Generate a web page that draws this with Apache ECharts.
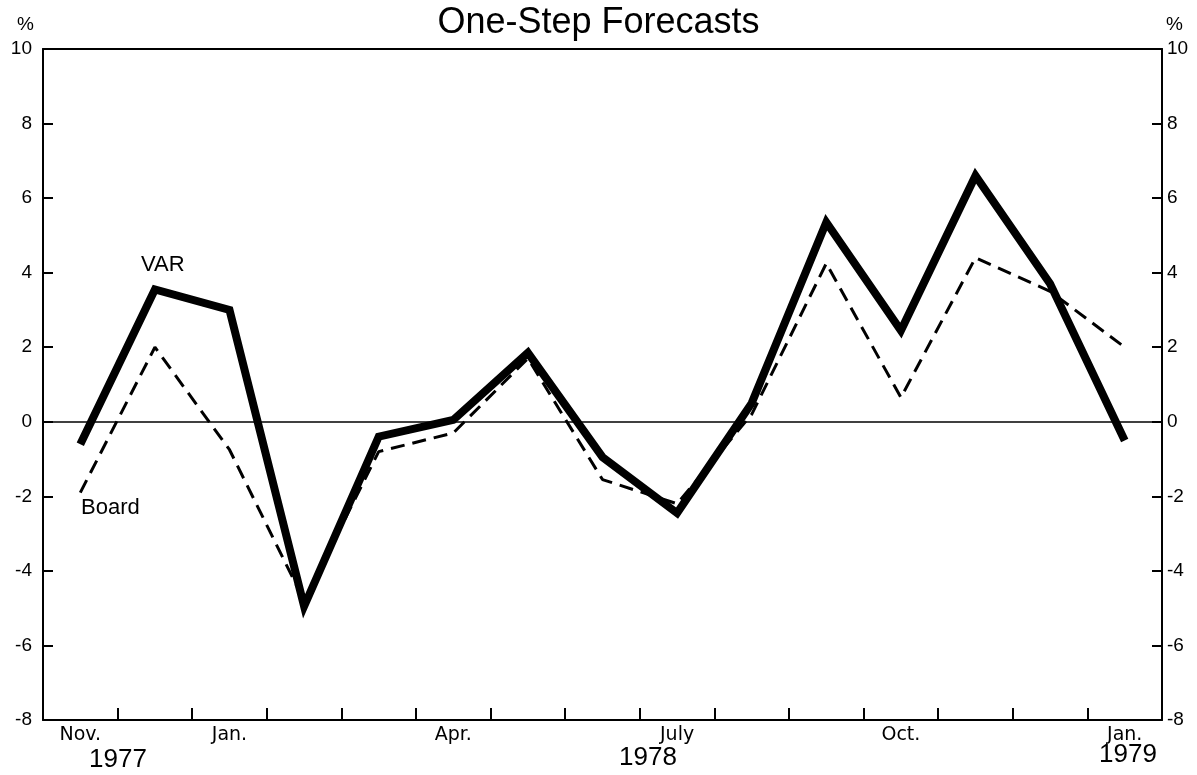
<!DOCTYPE html>
<html>
<head>
<meta charset="utf-8">
<script src="https://cdn.jsdelivr.net/npm/echarts@6/dist/echarts.min.js"></script>
<style>
  html, body { margin: 0; padding: 0; background: #fff; }
  #main { width: 1197px; height: 775px; }
</style>
</head>
<body>
<div id="main"></div>
<script>
// months Nov 1977 .. Jan 1979
var months = ['Nov', 'Dec', 'Jan', 'Feb', 'Mar', 'Apr', 'May', 'Jun', 'Jul', 'Aug', 'Sep', 'Oct', 'Nov', 'Dec', 'Jan'];
var monthLabels = ['Nov.', '', 'Jan.', '', '', 'Apr.', '', '', 'July', '', '', 'Oct.', '', '', 'Jan.'];
var varValues = [-0.6, 3.55, 3.0, -4.95, -0.4, 0.05, 1.85, -0.95, -2.45, 0.5, 5.35, 2.45, 6.6, 3.7, -0.5];
var boardValues = [-1.9, 2.0, -0.75, -4.8, -0.8, -0.3, 1.7, -1.55, -2.2, 0.2, 4.25, 0.65, 4.4, 3.5, 2.0];

var chart = echarts.init(document.getElementById('main'));
var font = 'Liberation Sans, Arial, sans-serif';

var yAxisBase = {
    type: 'value',
    min: -8,
    max: 10,
    interval: 2,
    axisLine: { show: true, lineStyle: { color: '#000', width: 2 } },
    axisTick: { show: true, inside: true, length: 10, lineStyle: { color: '#000', width: 2 } },
    splitLine: { show: false },
    axisLabel: { color: '#000', fontSize: 19, fontFamily: font }
};

var option = {
    backgroundColor: '#fff',
    animation: false,
    title: {
        text: 'One-Step Forecasts',
        left: 'center',
        top: 0,
        textStyle: { color: '#000', fontSize: 36, fontWeight: 'normal', fontFamily: font }
    },
    grid: { left: 43, right: 35, top: 49, bottom: 55 },
    xAxis: [
        {
            type: 'category',
            data: months,
            boundaryGap: true,
            axisLine: { show: true, onZero: false, lineStyle: { color: '#000', width: 2 } },
            axisTick: { show: true, inside: true, length: 12, interval: 0, lineStyle: { color: '#000', width: 2 } },
            axisLabel: {
                interval: 0,
                color: '#000',
                fontSize: 19,
                fontFamily: 'DejaVu Sans, sans-serif',
                margin: 6,
                formatter: function (v, i) { return monthLabels[i]; }
            }
        },
        {
            type: 'category',
            data: months,
            position: 'top',
            axisLine: { show: true, onZero: false, lineStyle: { color: '#000', width: 2 } },
            axisTick: { show: false },
            axisLabel: { show: false }
        }
    ],
    yAxis: [
        Object.assign({}, yAxisBase, { position: 'left', axisLabel: Object.assign({}, yAxisBase.axisLabel, { margin: 11 }) }),
        Object.assign({}, yAxisBase, { position: 'right', axisLabel: Object.assign({}, yAxisBase.axisLabel, { margin: 5 }) })
    ],
    series: [
        {
            name: 'Board',
            type: 'line',
            data: boardValues,
            symbol: 'none',
            lineStyle: { color: '#000', width: 3, type: [14, 8] },
            markLine: {
                silent: true,
                symbol: 'none',
                label: { show: false },
                lineStyle: { color: '#000', width: 1.5, type: 'solid' },
                data: [{ yAxis: 0 }]
            }
        },
        {
            name: 'VAR',
            type: 'line',
            data: varValues,
            symbol: 'none',
            lineStyle: { color: '#000', width: 8, cap: 'butt', join: 'miter' }
        }
    ],
    graphic: [
        { type: 'text', left: 17, top: 15, style: { text: '%', fontSize: 19, fontFamily: font, fill: '#000' } },
        { type: 'text', left: 1166, top: 15, style: { text: '%', fontSize: 19, fontFamily: font, fill: '#000' } },
        { type: 'text', left: 141, top: 254, style: { text: 'VAR', fontSize: 22, fontFamily: font, fill: '#000' } },
        { type: 'text', left: 81, top: 497, style: { text: 'Board', fontSize: 22, fontFamily: font, fill: '#000' } },
        { type: 'text', left: 89, top: 747, style: { text: '1977', fontSize: 26, fontFamily: font, fill: '#000' } },
        { type: 'text', left: 619, top: 745, style: { text: '1978', fontSize: 26, fontFamily: font, fill: '#000' } },
        { type: 'text', left: 1099, top: 742, style: { text: '1979', fontSize: 26, fontFamily: font, fill: '#000' } }
    ]
};

chart.setOption(option);
</script>
</body>
</html>
